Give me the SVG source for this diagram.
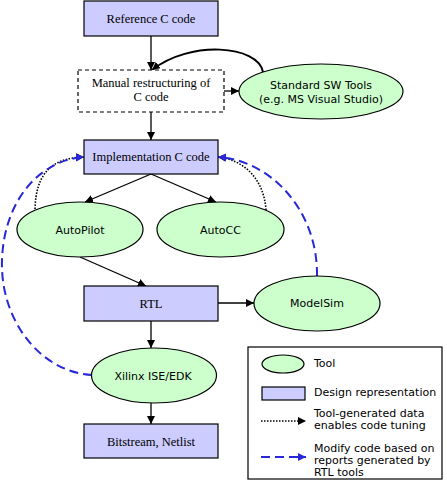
<svg xmlns="http://www.w3.org/2000/svg" width="447" height="487" viewBox="0 0 447 487">
<style>
.rep{fill:#ccccff;stroke:#000;stroke-width:1.2}
.tool{fill:#ccffcc;stroke:#000;stroke-width:1.2}
.serif{font-family:"Liberation Serif","Times New Roman",serif;font-size:12.5px;fill:#000;text-anchor:middle}
.sans{font-family:"DejaVu Sans","Liberation Sans",sans-serif;font-size:11px;fill:#000;text-anchor:middle}
.leg{font-family:"DejaVu Sans","Liberation Sans",sans-serif;font-size:11px;fill:#000}
.solid{fill:none;stroke:#000;stroke-width:1.3}
.dot{fill:none;stroke:#000;stroke-width:1.6;stroke-dasharray:1.5 1.5}
.blue{fill:none;stroke:#2828d8;stroke-width:2;stroke-dasharray:9 5}
</style>
<defs>
<marker id="ah" markerUnits="userSpaceOnUse" markerWidth="9" markerHeight="8" refX="8" refY="4" orient="auto">
<path d="M0,0 L8,4 L0,8 z" fill="#000"/>
</marker>
<marker id="ahb" markerUnits="userSpaceOnUse" markerWidth="9" markerHeight="8" refX="8" refY="4" orient="auto">
<path d="M0,0 L8,4 L0,8 z" fill="#2828d8"/>
</marker>
</defs>
<rect width="447" height="487" fill="#fff"/>

<g id="connectors">
<line class="solid" x1="151" y1="36" x2="151" y2="70" marker-end="url(#ah)"/>
<line class="solid" x1="224" y1="91" x2="239" y2="91" marker-end="url(#ah)"/>
<path class="solid" style="stroke-width:2" d="M263 72 C258 45 190 40 152 70" marker-end="url(#ah)"/>
<line class="solid" x1="151" y1="112" x2="151" y2="140" marker-end="url(#ah)"/>
<line class="solid" x1="151" y1="174" x2="85" y2="202" marker-end="url(#ah)"/>
<line class="solid" x1="151" y1="174" x2="216" y2="202" marker-end="url(#ah)"/>
<line class="solid" x1="80" y1="257" x2="146" y2="286" marker-end="url(#ah)"/>
<line class="solid" x1="218" y1="303" x2="254" y2="303" marker-end="url(#ah)"/>
<line class="solid" x1="151" y1="321" x2="151" y2="348" marker-end="url(#ah)"/>
<line class="solid" x1="151" y1="403" x2="151" y2="424" marker-end="url(#ah)"/>
<path class="dot" d="M35 209 C36 175 50 158 84 157" marker-end="url(#ah)"/>
<path class="dot" d="M266 210 C264 180 245 160 218 157" marker-end="url(#ah)"/>
<path class="blue" d="M92 375 C40 372 0 320 2 260 C4 200 40 160 84 157" marker-end="url(#ahb)"/>
<path class="blue" d="M317 276 C318 210 270 160 218 157" marker-end="url(#ahb)"/>
</g>

<g id="reference">
<rect class="rep" x="84" y="1" width="134" height="35"/>
<text class="serif" x="151" y="23">Reference C code</text>
</g>
<g id="manual">
<rect x="78" y="70" width="146" height="42" fill="#fff" stroke="#000" stroke-width="1.2" stroke-dasharray="4 3"/>
<text class="serif" x="151" y="87">Manual restructuring of</text>
<text class="serif" x="151" y="101">C code</text>
</g>
<g id="stdsw">
<ellipse class="tool" cx="321" cy="91.5" rx="82" ry="27.5"/>
<text class="sans" x="321" y="89">Standard SW Tools</text>
<text class="sans" x="321" y="103">(e.g. MS Visual Studio)</text>
</g>
<g id="impl">
<rect class="rep" x="84" y="140" width="134" height="34"/>
<text class="serif" x="151" y="161">Implementation C code</text>
</g>
<g id="autopilot">
<ellipse class="tool" cx="80" cy="229.5" rx="63" ry="27.5"/>
<text class="sans" x="80" y="234">AutoPilot</text>
</g>
<g id="autocc">
<ellipse class="tool" cx="220.5" cy="229.5" rx="63.5" ry="27.5"/>
<text class="sans" x="220.5" y="234">AutoCC</text>
</g>
<g id="rtl">
<rect class="rep" x="84" y="286" width="134" height="35"/>
<text class="serif" x="151" y="308">RTL</text>
</g>
<g id="modelsim">
<ellipse class="tool" cx="317" cy="303.5" rx="63" ry="27.5"/>
<text class="sans" x="317" y="307">ModelSim</text>
</g>
<g id="xilinx">
<ellipse class="tool" cx="154" cy="375.5" rx="62.5" ry="27.5"/>
<text class="sans" x="153" y="380">Xilinx ISE/EDK</text>
</g>
<g id="bitstream">
<rect class="rep" x="84" y="424" width="134" height="34"/>
<text class="serif" x="151" y="446">Bitstream, Netlist</text>
</g>

<g id="legend">
<rect x="248" y="347" width="194" height="132" fill="#fff" stroke="#000" stroke-width="1.2"/>
<ellipse class="tool" cx="283" cy="364" rx="21" ry="9"/>
<text class="leg" x="314" y="367">Tool</text>
<rect class="rep" x="262" y="387" width="43" height="13"/>
<text class="leg" x="314" y="396">Design representation</text>
<line class="dot" x1="261" y1="421" x2="306" y2="421" marker-end="url(#ah)"/>
<text class="leg" x="314" y="417">Tool-generated data</text>
<text class="leg" x="314" y="429">enables code tuning</text>
<line class="blue" x1="261" y1="457" x2="306" y2="457" marker-end="url(#ahb)"/>
<text class="leg" x="314" y="452">Modify code based on</text>
<text class="leg" x="314" y="464">reports generated by</text>
<text class="leg" x="314" y="476">RTL tools</text>
</g>
</svg>
